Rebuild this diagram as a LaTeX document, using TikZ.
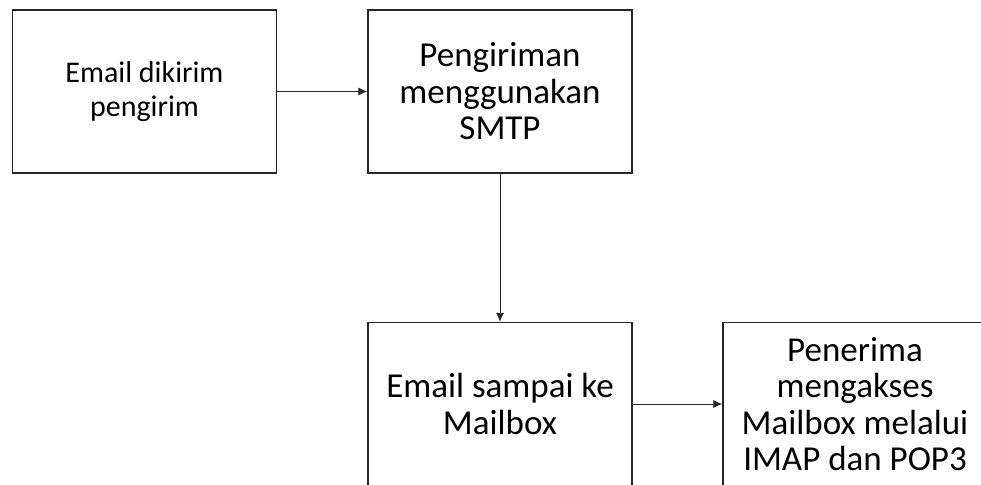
\documentclass[tikz,border=0pt]{standalone}
\usepackage{fontspec}
\setmainfont{Carlito}
\usetikzlibrary{arrows.meta}
\begin{document}
\begin{tikzpicture}[x=1pt,y=-1pt,
  flowbox/.style={draw=black!85,line width=1.4pt,minimum width=264pt,minimum height=163pt,inner sep=0pt,align=center,font=\fontsize{35}{36.5}\selectfont},
  smallbox/.style={flowbox,font=\fontsize{30}{34}\selectfont},
  conn/.style={draw=black!85,line width=0.8pt,-{Latex[length=9pt,width=8pt]}}]
\useasboundingbox (0,0) rectangle (981,484);
\clip (0,0) rectangle (981,484);
\node[smallbox] (kirim) at (144.5,91.5) {Email dikirim\\pengirim};
\node[flowbox] (smtp) at (500,91.5) {Pengiriman\\menggunakan\\SMTP};
\node[flowbox] (mailbox) at (500,404) {Email sampai ke\\Mailbox};
\node[flowbox] (terima) at (855,404) {Penerima\\mengakses\\Mailbox melalui\\IMAP dan POP3};
\draw[conn] (kirim) -- (smtp);
\draw[conn] (smtp) -- (mailbox);
\draw[conn] (mailbox) -- (terima);
\end{tikzpicture}
\end{document}
